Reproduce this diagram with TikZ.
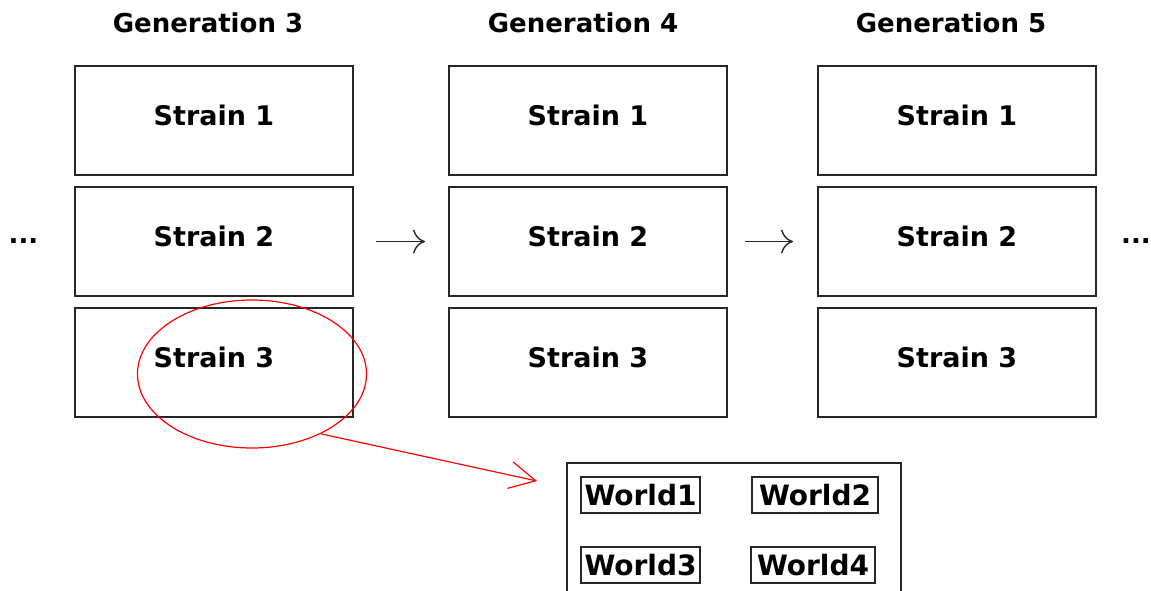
\documentclass[tikz,border=0pt]{standalone}
\usepackage{fontspec}
\setmainfont{DejaVu Sans}
\usepackage{tikz}
\usetikzlibrary{shapes.geometric, arrows.meta, positioning}

\begin{document}
\begin{tikzpicture}[x=1pt, y=-1pt, node distance=12pt,
        strainbox/.style={draw=black!85, line width=2.2pt, minimum width=278pt, minimum height=109pt, outer sep=0pt, text depth=10pt, font=\fontsize{27pt}{31pt}\selectfont\bfseries},
        genlabel/.style={inner sep=0pt, text depth=0pt, font=\fontsize{26pt}{30pt}\selectfont\bfseries},
        worldbox/.style={draw=black!85, line width=1.6pt, inner xsep=3.5pt, minimum height=36pt, outer sep=0pt, font=\fontsize{28pt}{32pt}\selectfont\bfseries},
        genarrow/.style={-{To[length=12pt, width=24pt]}, line width=1.4pt, black!85}]
        \useasboundingbox (0,0) rectangle (1151,590);
        \clip (0,0) rectangle (1151,590);

        \node[strainbox] (g3s1) at (214,120.5) {Strain 1};
        \node[strainbox, below=of g3s1] (g3s2) {Strain 2};
        \node[strainbox, below=of g3s2] (g3s3) {Strain 3};
        \node[strainbox, right=96pt of g3s1] (g4s1) {Strain 1};
        \node[strainbox, below=of g4s1] (g4s2) {Strain 2};
        \node[strainbox, below=of g4s2] (g4s3) {Strain 3};
        \node[strainbox, right=91pt of g4s1] (g5s1) {Strain 1};
        \node[strainbox, below=of g5s1] (g5s2) {Strain 2};
        \node[strainbox, below=of g5s2] (g5s3) {Strain 3};

        \node[genlabel, above=33pt of g3s1, xshift=-6pt] (gen3) {Generation 3};
        \node[genlabel, above=33pt of g4s1, xshift=-5pt] (gen4) {Generation 4};
        \node[genlabel, above=33pt of g5s1, xshift=-6pt] (gen5) {Generation 5};

        \node[genlabel, left=36.5pt of g3s2] (ldots) {...};
        \node[genlabel, right=25pt of g5s2] (rdots) {...};

        \draw[genarrow, shorten <=23pt, shorten >=24pt] (g3s2) -- (g4s2);
        \draw[genarrow, shorten <=18pt, shorten >=25pt] (g4s2) -- (g5s2);

        \node[draw=red, line width=1.2pt, ellipse, minimum width=229pt, minimum height=148pt, inner sep=0pt] (focus) at ([shift={(38,11.5)}]g3s3.center) {};

        \node[draw=black!85, line width=2.2pt, minimum width=334pt, minimum height=170pt, outer sep=0pt, below right=46pt and 118pt of g4s3.south west] (worlds) {};
        \node[worldbox, below right=14pt and 14pt of worlds.north west] (w1) {World1};
        \node[worldbox, right=52pt of w1, minimum width=126pt] (w2) {World2};
        \node[worldbox, below=34pt of w1] (w3) {World3};
        \node[worldbox, right=51pt of w3, minimum width=124pt] (w4) {World4};

        \coordinate (tip) at ([shift={(-30,18)}]worlds.north west);
        \draw[red, line width=1.2pt, -{Straight Barb[length=26pt, width=27pt]}] (focus.-41) -- (tip);
    \end{tikzpicture}
\end{document}
